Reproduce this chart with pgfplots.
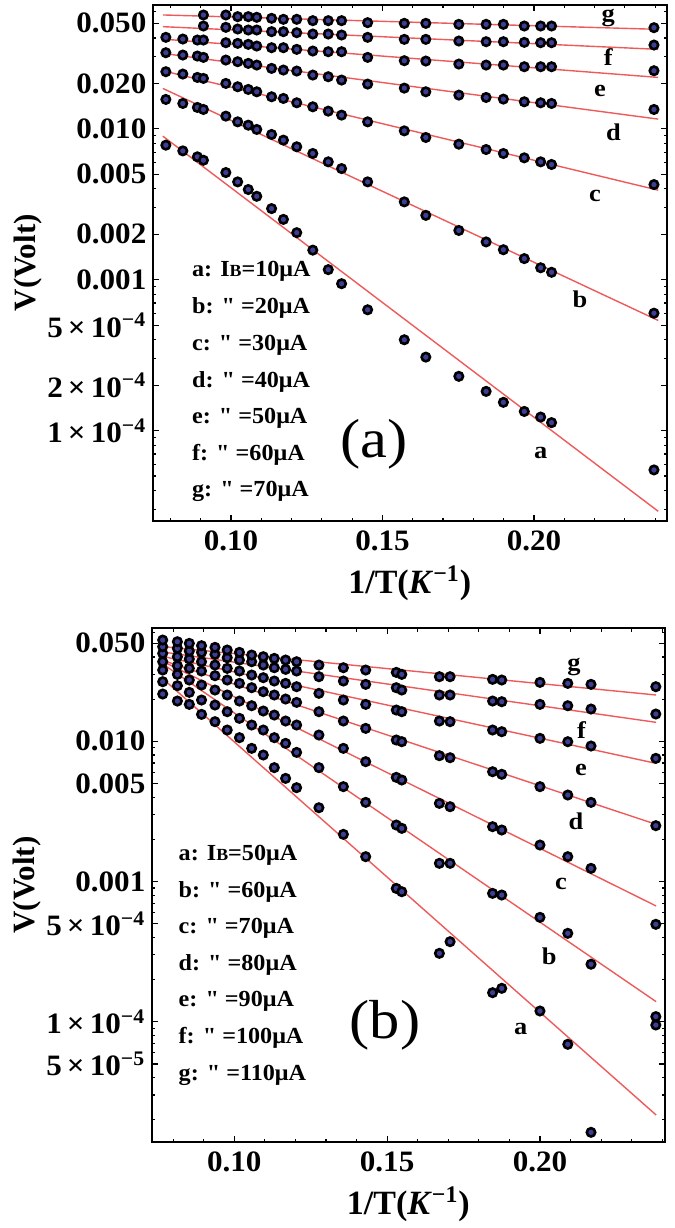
\documentclass[border=0pt]{standalone}
\usepackage{fontspec}
\setmainfont{Liberation Serif}
\newfontfamily\lfont{Liberation Serif}
\usepackage{graphicx}
\usepackage{pgfplots}
\pgfplotsset{compat=1.18}
\definecolor{fitred}{RGB}{238,90,90}
\definecolor{mk}{RGB}{62,62,150}
\newcommand{\tkl}[1]{\scalebox{1.05}[1]{#1}}
\newcommand{\lnl}[1]{\scalebox{1.1}[1]{#1}}
\newcommand{\lgd}[1]{\scalebox{1.05}[1]{#1}}
\newcommand{\IB}{I{\fontsize{8.5}{9}\selectfont B}}
\newcommand{\labfont}{\fontsize{12}{14}\selectfont\bfseries}
\pgfplotsset{
  every axis/.append style={
    scale only axis, anchor=south west,
    axis line style={line width=1.1pt},
    major tick length=3pt, minor tick length=1.6pt,
    tick align=inside,
    xtick={0.1,0.15,0.2}, xticklabels={\tkl{0.10},\tkl{0.15},\tkl{0.20}},
    minor xtick={0.08,0.09,0.11,0.12,0.13,0.14,0.16,0.17,0.18,0.19,0.21,0.22,0.23,0.24},
    ticklabel style={font=\fontsize{14.8}{16}\selectfont\bfseries},
    xticklabel style={inner ysep=4.8pt},
    yticklabel style={inner xsep=3pt},
    xlabel={1/T(\textit{K}\textsuperscript{−1})},
    ylabel={V(Volt)},
    ylabel shift={-4pt},
    xlabel style={font=\fontsize{17}{19}\selectfont\bfseries, yshift=1pt},
    ylabel style={font=\fontsize{15.5}{18}\selectfont\bfseries},
  },
  every tick/.append style={black, line width=0.6pt},
  fitline/.style={fitred, line width=0.7pt, no marks},
  pts/.style={only marks, mark=*, mark size=2.1pt, mark options={fill=mk, draw=black, line width=1.3pt}},
}
\begin{document}
\begin{tikzpicture}
% ---------------- panel (a) ----------------
\begin{axis}[ymode=log, at={(76.35pt,353.65pt)}, width=257pt, height=257.85pt,
  xmin=0.07416, xmax=0.2438, ymin=2.53e-5, ymax=0.0661,
  ytick={0.05,0.02,0.01,0.005,0.002,0.001,5e-4,2e-4,1e-4},
  yticklabels={\tkl{0.050},\tkl{0.020},\tkl{0.010},\tkl{0.005},\tkl{0.002},\tkl{0.001},
    \tkl{5\,×\,10\textsuperscript{−4}},\tkl{2\,×\,10\textsuperscript{−4}},\tkl{1\,×\,10\textsuperscript{−4}}},
  minor ytick={3e-5,4e-5,5e-5,6e-5,7e-5,8e-5,9e-5,3e-4,4e-4,6e-4,7e-4,8e-4,9e-4,3e-3,4e-3,6e-3,7e-3,8e-3,9e-3,0.03,0.04,0.06},
]
\addplot[fitline] coordinates {(0.0775,0.0568) (0.2410,0.0456)};
\addplot[fitline] coordinates {(0.0775,0.0475) (0.2410,0.0336)};
\addplot[fitline] coordinates {(0.0775,0.0393) (0.2410,0.0219)};
\addplot[fitline] coordinates {(0.0775,0.0316) (0.2410,0.01159)};
\addplot[fitline] coordinates {(0.0775,0.02425) (0.2410,0.00392)};
\addplot[fitline] coordinates {(0.0775,0.01852) (0.2410,0.000537)};
\addplot[fitline] coordinates {(0.0775,0.00894) (0.2410,0.0000292)};
% a
\addplot[pts] coordinates {(0.0785,0.00779)(0.0841,0.00714)(0.0889,0.00652)(0.0909,0.00619)(0.0983,0.00513)(0.1022,0.00445)(0.1057,0.00396)(0.1085,0.00357)(0.1134,0.00296)(0.1173,0.00251)(0.1217,0.00205)(0.1270,0.00157)(0.1321,0.001166)(0.1365,0.000941)(0.1451,0.000632)(0.1572,0.000400)(0.1643,0.000307)(0.1752,0.000229)(0.1842,0.000182)(0.1899,0.000154)(0.1968,0.000134)(0.2022,0.000123)(0.2058,0.000113)(0.2396,0.0000549)};
% b
\addplot[pts] coordinates {(0.0785,0.01565)(0.0841,0.01472)(0.0889,0.01385)(0.0909,0.01343)(0.0983,0.01213)(0.1022,0.01112)(0.1057,0.01057)(0.1085,0.00990)(0.1134,0.00917)(0.1173,0.00841)(0.1217,0.00760)(0.1270,0.00686)(0.1321,0.00604)(0.1365,0.00545)(0.1451,0.00445)(0.1572,0.00328)(0.1643,0.00267)(0.1752,0.00212)(0.1842,0.00178)(0.1899,0.00158)(0.1968,0.00138)(0.2022,0.00120)(0.2058,0.00112)(0.2396,0.000600)};
% c
\addplot[pts] coordinates {(0.0785,0.02389)(0.0841,0.02305)(0.0889,0.02190)(0.0909,0.02157)(0.0983,0.01998)(0.1022,0.01899)(0.1057,0.01823)(0.1085,0.01759)(0.1134,0.01630)(0.1173,0.01589)(0.1217,0.01487)(0.1270,0.01399)(0.1321,0.01309)(0.1365,0.01232)(0.1451,0.01112)(0.1572,0.00969)(0.1643,0.00876)(0.1752,0.00791)(0.1842,0.00729)(0.1899,0.00686)(0.1968,0.00642)(0.2022,0.00604)(0.2058,0.00580)(0.2396,0.00427)};
% d
\addplot[pts] coordinates {(0.0785,0.03193)(0.0841,0.03081)(0.0889,0.03034)(0.0909,0.02973)(0.0983,0.02854)(0.1022,0.02783)(0.1057,0.02713)(0.1085,0.02644)(0.1134,0.02513)(0.1173,0.02450)(0.1217,0.02413)(0.1270,0.02270)(0.1321,0.02213)(0.1365,0.02103)(0.1451,0.01978)(0.1572,0.01860)(0.1643,0.01759)(0.1752,0.01672)(0.1842,0.01613)(0.1899,0.01573)(0.1968,0.01510)(0.2022,0.01487)(0.2058,0.01472)(0.2396,0.01343)};
% e
\addplot[pts] coordinates {(0.0785,0.04036)(0.0841,0.03934)(0.0889,0.03874)(0.0909,0.03874)(0.0983,0.03720)(0.1022,0.03682)(0.1057,0.03627)(0.1085,0.03535)(0.1134,0.03446)(0.1173,0.03446)(0.1217,0.03360)(0.1270,0.03275)(0.1321,0.03242)(0.1365,0.03242)(0.1451,0.02973)(0.1572,0.02826)(0.1643,0.02811)(0.1752,0.02685)(0.1842,0.02644)(0.1899,0.02644)(0.1968,0.02578)(0.2022,0.02578)(0.2058,0.02578)(0.2396,0.02425)};
% f
\addplot[pts] coordinates {(0.0909,0.04798)(0.0983,0.04702)(0.1022,0.04583)(0.1057,0.04514)(0.1085,0.04514)(0.1134,0.04401)(0.1173,0.04401)(0.1217,0.04334)(0.1270,0.04246)(0.1321,0.04246)(0.1365,0.04182)(0.1451,0.04036)(0.1572,0.03914)(0.1643,0.03914)(0.1752,0.03816)(0.1842,0.03777)(0.1899,0.03777)(0.1968,0.03739)(0.2022,0.03720)(0.2058,0.03720)(0.2396,0.03590)};
% g
\addplot[pts] coordinates {(0.0909,0.05677)(0.0983,0.05677)(0.1022,0.05534)(0.1057,0.05534)(0.1085,0.05479)(0.1134,0.05395)(0.1173,0.05313)(0.1217,0.05313)(0.1270,0.05206)(0.1321,0.05206)(0.1365,0.05206)(0.1451,0.05049)(0.1572,0.04997)(0.1643,0.04997)(0.1752,0.04922)(0.1842,0.04922)(0.1899,0.04922)(0.1968,0.04798)(0.2022,0.04798)(0.2058,0.04798)(0.2396,0.04678)};
\node[font=\labfont] at (axis cs:0.2245,0.0545) {\lnl{g}};
\node[font=\labfont] at (axis cs:0.2245,0.0300) {\lnl{f}};
\node[font=\labfont] at (axis cs:0.2218,0.01786) {\lnl{e}};
\node[font=\labfont] at (axis cs:0.2262,0.00946) {\lnl{d}};
\node[font=\labfont] at (axis cs:0.2201,0.003612) {\lnl{c}};
\node[font=\labfont] at (axis cs:0.2152,0.000744) {\lnl{b}};
\node[font=\labfont] at (axis cs:0.2022,0.0000711) {\lnl{a}};
\end{axis}
% ---------------- panel (b) ----------------
\begin{axis}[ymode=log, at={(75.85pt,43.15pt)}, width=256.65pt, height=256.7pt,
  xmin=0.0730, xmax=0.2409, ymin=1.393e-5, ymax=0.0640,
  ytick={0.05,0.01,0.005,0.001,5e-4,1e-4,5e-5},
  yticklabels={\tkl{0.050},\tkl{0.010},\tkl{0.005},\tkl{0.001},
    \tkl{5\,×\,10\textsuperscript{−4}},\tkl{1\,×\,10\textsuperscript{−4}},\tkl{5\,×\,10\textsuperscript{−5}}},
  minor ytick={2e-5,3e-5,4e-5,6e-5,7e-5,8e-5,9e-5,2e-4,3e-4,4e-4,6e-4,7e-4,8e-4,9e-4,2e-3,3e-3,4e-3,6e-3,7e-3,8e-3,9e-3,0.02,0.03,0.04,0.06},
]
\addplot[fitline] coordinates {(0.0763,0.0475) (0.2380,0.02140)};
\addplot[fitline] coordinates {(0.0763,0.0435) (0.2380,0.01366)};
\addplot[fitline] coordinates {(0.0763,0.0405) (0.2380,0.006963)};
\addplot[fitline] coordinates {(0.0763,0.0380) (0.2380,0.002557)};
\addplot[fitline] coordinates {(0.0763,0.0375) (0.2380,0.000669)};
\addplot[fitline] coordinates {(0.0763,0.0360) (0.2380,0.000139)};
\addplot[fitline] coordinates {(0.0763,0.0284) (0.2380,0.0000216)};
% a
\addplot[pts] coordinates {(0.0766,0.02175)(0.0814,0.01938)(0.0853,0.01835)(0.0893,0.01557)(0.0937,0.01381)(0.0977,0.01204)(0.1017,0.01062)(0.1057,0.00891)(0.1095,0.00799)(0.1131,0.00649)(0.1168,0.00544)(0.1204,0.00467)(0.1277,0.00336)(0.1357,0.002170)(0.1430,0.001504)(0.1530,0.000893)(0.1548,0.000846)(0.1671,0.0003074)(0.1706,0.0003722)(0.1845,0.0001611)(0.1875,0.0001730)(0.2000,0.0001192)(0.2091,0.0000690)(0.2167,0.00001625)(0.2379,0.0000947)};
% b
\addplot[pts] coordinates {(0.0766,0.02663)(0.0814,0.02494)(0.0853,0.02235)(0.0893,0.01971)(0.0937,0.01815)(0.0977,0.01627)(0.1017,0.01458)(0.1057,0.01307)(0.1095,0.01204)(0.1131,0.01062)(0.1168,0.00967)(0.1204,0.00834)(0.1277,0.00649)(0.1357,0.00475)(0.1430,0.00367)(0.1530,0.002529)(0.1548,0.002395)(0.1671,0.001348)(0.1706,0.001348)(0.1845,0.000823)(0.1875,0.000801)(0.2000,0.000555)(0.2091,0.000427)(0.2167,0.000257)(0.2379,0.0001087)};
% c
\addplot[pts] coordinates {(0.0766,0.03225)(0.0814,0.03004)(0.0853,0.02737)(0.0893,0.02521)(0.0937,0.02322)(0.0977,0.02140)(0.1017,0.01938)(0.1057,0.01795)(0.1095,0.01645)(0.1131,0.01540)(0.1168,0.01396)(0.1204,0.01307)(0.1277,0.01109)(0.1357,0.00891)(0.1430,0.00716)(0.1530,0.005534)(0.1548,0.005297)(0.1671,0.003610)(0.1706,0.003417)(0.1845,0.002461)(0.1875,0.002330)(0.2000,0.001821)(0.2091,0.001504)(0.2167,0.001241)(0.2379,0.000495)};
% d
\addplot[pts] coordinates {(0.0766,0.03698)(0.0814,0.03463)(0.0853,0.03315)(0.0893,0.03173)(0.0937,0.02939)(0.0977,0.02737)(0.1017,0.02591)(0.1057,0.02413)(0.1095,0.02260)(0.1131,0.02140)(0.1168,0.02003)(0.1204,0.01896)(0.1277,0.01627)(0.1357,0.01396)(0.1430,0.01237)(0.1530,0.01022)(0.1548,0.00994)(0.1671,0.00790)(0.1706,0.00764)(0.1845,0.00607)(0.1875,0.005818)(0.2000,0.00475)(0.2091,0.00414)(0.2167,0.00367)(0.2379,0.002502)};
% e
\addplot[pts] coordinates {(0.0766,0.04241)(0.0814,0.04015)(0.0853,0.03864)(0.0893,0.03698)(0.0937,0.03501)(0.0977,0.03315)(0.1017,0.03173)(0.1057,0.02971)(0.1095,0.02844)(0.1131,0.02692)(0.1168,0.02591)(0.1204,0.02453)(0.1277,0.02199)(0.1357,0.01971)(0.1430,0.01835)(0.1530,0.01672)(0.1548,0.01627)(0.1671,0.01396)(0.1706,0.01381)(0.1845,0.01204)(0.1875,0.01171)(0.2000,0.01050)(0.2091,0.00994)(0.2167,0.00926)(0.2379,0.00756)};
% f
\addplot[pts] coordinates {(0.0766,0.04731)(0.0814,0.04604)(0.0853,0.04406)(0.0893,0.04311)(0.0937,0.04172)(0.0977,0.03949)(0.1017,0.03801)(0.1057,0.03698)(0.1095,0.03501)(0.1131,0.03351)(0.1168,0.03261)(0.1204,0.03173)(0.1277,0.02891)(0.1357,0.02692)(0.1430,0.02549)(0.1530,0.02413)(0.1548,0.02322)(0.1671,0.02140)(0.1706,0.02140)(0.1845,0.01938)(0.1875,0.01917)(0.2000,0.01835)(0.2091,0.01795)(0.2167,0.01700)(0.2379,0.01566)};
% g
\addplot[pts] coordinates {(0.0766,0.05279)(0.0814,0.05136)(0.0853,0.04998)(0.0893,0.04810)(0.0937,0.04680)(0.0977,0.04479)(0.1017,0.04311)(0.1057,0.04126)(0.1095,0.04015)(0.1131,0.03906)(0.1168,0.03801)(0.1204,0.03698)(0.1277,0.03501)(0.1357,0.03351)(0.1430,0.03225)(0.1530,0.03104)(0.1548,0.03004)(0.1671,0.02891)(0.1706,0.02891)(0.1845,0.02767)(0.1875,0.02737)(0.2000,0.02634)(0.2091,0.02591)(0.2167,0.02549)(0.2379,0.02453)};
\node[font=\labfont] at (axis cs:0.2111,0.0337) {\lnl{g}};
\node[font=\labfont] at (axis cs:0.2136,0.01204) {\lnl{f}};
\node[font=\labfont] at (axis cs:0.2134,0.006243) {\lnl{e}};
\node[font=\labfont] at (axis cs:0.2118,0.002670) {\lnl{d}};
\node[font=\labfont] at (axis cs:0.2069,0.000960) {\lnl{c}};
\node[font=\labfont] at (axis cs:0.2030,0.000294) {\lnl{b}};
\node[font=\labfont] at (axis cs:0.1937,0.0000883) {\lnl{a}};
\end{axis}
% legends
\begin{scope}[every node/.style={anchor=west, inner sep=0pt, font=\lfont\bfseries\fontsize{11.5}{13}\selectfont}]
\node at (95.85pt,478.15pt) {\lgd{a: \IB=10μA}};
\node at (95.85pt,459.85pt) {\lgd{b: " =20μA}};
\node at (95.85pt,441.5pt) {\lgd{c: " =30μA}};
\node at (95.85pt,423.15pt) {\lgd{d: " =40μA}};
\node at (95.85pt,404.85pt) {\lgd{e: " =50μA}};
\node at (95.85pt,386.5pt) {\lgd{f: " =60μA}};
\node at (95.85pt,368.15pt) {\lgd{g: " =70μA}};
\node at (89.15pt,186.5pt) {\lgd{a: \IB=50μA}};
\node at (89.15pt,168.15pt) {\lgd{b: " =60μA}};
\node at (89.15pt,149.85pt) {\lgd{c: " =70μA}};
\node at (89.15pt,131.5pt) {\lgd{d: " =80μA}};
\node at (89.15pt,113.15pt) {\lgd{e: " =90μA}};
\node at (89.15pt,94.85pt) {\lgd{f: " =100μA}};
\node at (89.15pt,76.5pt) {\lgd{g: " =110μA}};
\end{scope}
\node[font=\fontsize{27.5}{30}\selectfont] at (187pt,392pt) {\scalebox{1.1}[1]{(a)}};
\node[font=\fontsize{27.5}{30}\selectfont] at (192.5pt,101.5pt) {\scalebox{1.1}[1]{(b)}};
\pgfresetboundingbox
\path[use as bounding box] (0,0) rectangle (337.5pt,614pt);
\end{tikzpicture}
\end{document}
